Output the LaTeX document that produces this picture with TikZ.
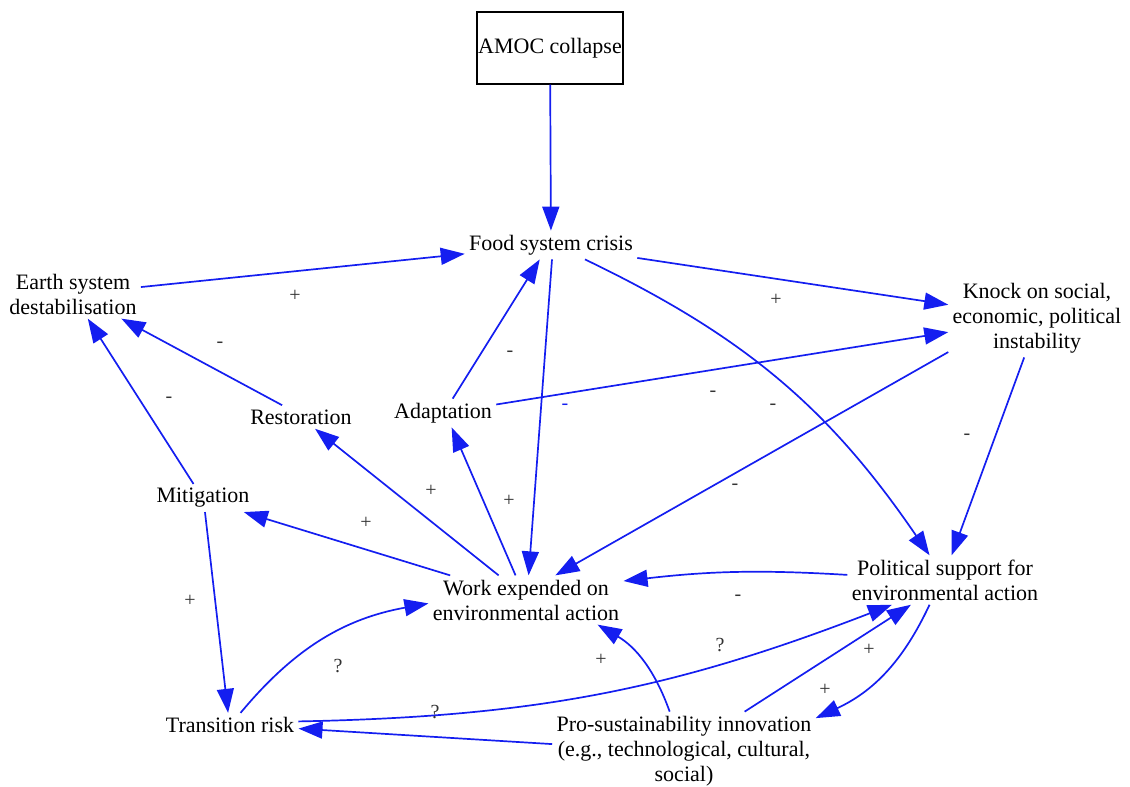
\documentclass[tikz,border=0pt]{standalone}
\usepackage{fontspec}
\setmainfont{Liberation Serif}
\usepackage{tikz}
\usetikzlibrary{arrows.meta}
\definecolor{linkblue}{RGB}{20,30,240}

\begin{document}
\begin{tikzpicture}
	  [x=0.5pt,y=-0.5pt,
   every node/.style={font=\fontsize{11}{12.5}\selectfont},
   box/.style={draw,line width=0.6pt,minimum width=73pt,minimum height=36pt,inner sep=0.5pt},
   var/.style={align=center,inner sep=2pt},
   link/.style={draw=linkblue,line width=0.85pt,-{Triangle[length=12pt,width=8.5pt]}},
   sign/.style={font=\fontsize{10}{10}\selectfont,text=black!80,inner sep=1pt}
  ]
  \useasboundingbox (0,0) rectangle (1130,787);

  % variables
  \node[box] (amoc) at (550,48) {AMOC collapse};
  \node[var] (food) at (551,245) {Food system crisis};
  \node[var] (earth) at (73,294) {Earth system\\destabilisation};
  \node[var] (knock) at (1037,318) {Knock on social,\\economic, political\\instability};
  \node[var] (rest) at (301,417) {Restoration};
  \node[var] (adapt) at (443,413) {Adaptation};
  \node[var] (mitig) at (203,498) {Mitigation};
  \node[var] (work) at (526,600) {Work expended on\\environmental action};
  \node[var] (polit) at (945,580) {Political support for\\environmental action};
  \node[var] (trans) at (230,725) {Transition risk};
  \node[var] (innov) at (684,751) {Pro-sustainability innovation\\(e.g., technological, cultural,\\social)};

  % links
  \draw[link] (amoc) -- (food);
  \draw[link] (earth) -- (food);
  \draw[link] (food) -- (knock);
  \draw[link] (adapt) -- (knock);
  \draw[link] (knock.201) -- (work.40);
  \draw[link] (knock.252) -- (polit.75);
  \draw[link] (food.337) to[bend left=15] (polit.122);
  \draw[link] (adapt.56) -- (food.232);
  \draw[link] (food.274) -- (work.84);
  \draw[link] (work.113) -- (adapt.301);
  \draw[link] (work.138) -- (rest.320);
  \draw[link] (work.162) -- (mitig.341);
  \draw[link] (rest.148) -- (earth.333);
  \draw[link] (mitig.124) -- (earth.301);
  \draw[link] (mitig.278) -- (trans.99);
  \draw[link] (trans.49) to[bend left=20] (work.182);
  \draw[link] (innov.110) to[bend right=20] (work.341);
  \draw[link] (trans.3) to[bend right=10] (polit.205);
  \draw[link] (innov.177) -- (trans.357);
  \draw[link] (innov.33) -- (polit.216);
  \draw[link] (polit.177) to[bend right=5] (work.11);
  \draw[link] (polit.238) to[bend left=20] (innov.14);

  % polarities
  \foreach \x/\y/\s [count=\i] in {295/296/+,776/300/+,220/345/-,169/400/-,510/354/-,
      713/394/-,773/407/-,967/437/-,735/487/-,431/491/+,509/501/+,366/523/+,190/601/+,
      738/598/-,338/666/?,720/645/?,435/712/?,601/660/+,869/650/+,825/690/+}
     \node[sign] (sign\i) at (\x,\y) {\s};
  \node[sign,text=linkblue] (signb) at (565,407) {-};

\end{tikzpicture}
\end{document}
